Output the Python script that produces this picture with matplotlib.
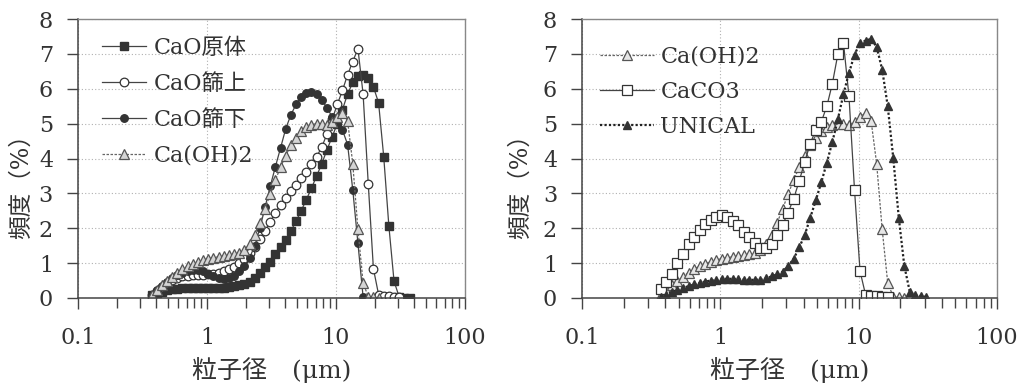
import matplotlib
matplotlib.use("Agg")
import matplotlib.pyplot as plt
from matplotlib.ticker import LogLocator, FixedLocator, FuncFormatter, NullFormatter

# particle size channels (um)
size_um = [0.3715, 0.4074, 0.4467, 0.4898, 0.5370, 0.5888, 0.6457, 0.7079, 0.7762, 0.8511,
           0.9333, 1.0233, 1.122, 1.230, 1.349, 1.479, 1.622, 1.778, 1.950, 2.138,
           2.344, 2.570, 2.818, 3.090, 3.388, 3.715, 4.074, 4.467, 4.898, 5.370,
           5.888, 6.457, 7.079, 7.762, 8.511, 9.333, 10.23, 11.22, 12.30, 13.49,
           14.79, 16.22, 17.78, 19.50, 21.38, 23.44, 25.70, 28.18, 30.90, 33.88,
           37.15]

cao_raw = [0.08, 0.13, 0.18, 0.22, 0.25, 0.27, 0.28, 0.28, 0.28, 0.28,
           0.28, 0.28, 0.28, 0.28, 0.29, 0.31, 0.33, 0.36, 0.40, 0.47,
           0.58, 0.72, 0.88, 1.04, 1.25, 1.45, 1.67, 1.92, 2.20, 2.50,
           2.82, 3.15, 3.50, 3.85, 4.25, 4.62, 5.00, 5.40, 5.85, 6.18,
           6.37, 6.40, 6.30, 6.05, 5.60, 4.05, 2.06, 0.48, 0.03, 0.01,
           0.00]

cao_over = [0.08, 0.20, 0.32, 0.43, 0.52, 0.58, 0.62, 0.64, 0.65, 0.66,
            0.67, 0.68, 0.70, 0.72, 0.76, 0.82, 0.90, 1.00, 1.13, 1.28,
            1.47, 1.68, 1.92, 2.18, 2.45, 2.68, 2.88, 3.07, 3.25, 3.43,
            3.62, 3.83, 4.05, 4.33, 4.70, 5.12, 5.55, 5.95, 6.40, 6.78,
            7.15, 5.85, 3.28, 0.84, 0.10, 0.06, 0.05, 0.04, 0.03]

cao_under = [0.08, 0.22, 0.35, 0.47, 0.57, 0.65, 0.72, 0.78, 0.81, 0.80,
             0.76, 0.70, 0.63, 0.58, 0.55, 0.57, 0.64, 0.76, 0.92, 1.15,
             1.50, 2.00, 2.60, 3.20, 3.76, 4.30, 4.85, 5.25, 5.55, 5.75,
             5.88, 5.92, 5.85, 5.68, 5.45, 5.20, 5.00, 4.82, 4.40, 3.10,
             1.57, 0.03]

caoh2 = [0.10, 0.23, 0.36, 0.49, 0.61, 0.73, 0.83, 0.91, 0.98, 1.04,
         1.09, 1.13, 1.16, 1.18, 1.20, 1.22, 1.25, 1.30, 1.38, 1.55,
         1.82, 2.15, 2.55, 2.98, 3.38, 3.75, 4.08, 4.38, 4.60, 4.78,
         4.90, 4.97, 5.00, 4.98, 4.97, 5.05, 5.20, 5.30, 5.08, 3.85,
         1.97, 0.43, 0.04, 0.02, 0.01]

caco3 = [0.25, 0.47, 0.69, 1.00, 1.26, 1.55, 1.76, 1.96, 2.12, 2.24,
         2.33, 2.38, 2.32, 2.21, 2.08, 1.90, 1.75, 1.57, 1.43, 1.42,
         1.55, 1.80, 2.10, 2.45, 2.85, 3.35, 3.90, 4.43, 4.82, 5.05,
         5.50, 6.15, 7.00, 7.32, 5.78, 3.10, 0.77, 0.09, 0.05, 0.05,
         0.04, 0.02]

unical = [0.04, 0.10, 0.17, 0.23, 0.29, 0.34, 0.39, 0.43, 0.47, 0.50,
          0.52, 0.54, 0.55, 0.55, 0.54, 0.53, 0.52, 0.52, 0.53, 0.56,
          0.62, 0.68, 0.75, 0.92, 1.12, 1.45, 1.80, 2.30, 2.80, 3.32,
          3.88, 4.48, 5.13, 5.85, 6.45, 6.98, 7.31, 7.38, 7.43, 7.20,
          6.55, 5.50, 4.02, 2.30, 0.92, 0.17, 0.08, 0.05, 0.03]

FONT = ["DejaVu Serif", "Noto Sans CJK JP"]
plt.rcParams["font.family"] = FONT
plt.rcParams["text.color"] = "#333333"
plt.rcParams["axes.labelcolor"] = "#333333"

fig = plt.figure(figsize=(10.22, 3.88), dpi=100)
ax1 = fig.add_axes([78 / 1022, 1 - 298 / 388, 387 / 1022, 279 / 388])
ax2 = fig.add_axes([582 / 1022, 1 - 298 / 388, 415 / 1022, 279 / 388])

dark = "#333333"
line = "#444444"


def n(vals):
    return size_um[:len(vals)]


# left panel
ax1.plot(n(cao_raw), cao_raw, "-", color=line, lw=0.9, marker="s", ms=5.2,
         mfc=dark, mec=dark, label="CaO原体")
ax1.plot(n(cao_over), cao_over, "-", color=line, lw=0.9, marker="o", ms=6.2,
         mfc="white", mec=dark, mew=0.9, label="CaO篩上")
ax1.plot(n(cao_under), cao_under, "-", color=line, lw=0.9, marker="o", ms=5.4,
         mfc=dark, mec=dark, label="CaO篩下")
ax1.plot(n(caoh2), caoh2, color="#666666", lw=0.9, ls=(0, (2, 1.2)), marker="^", ms=6.8,
         mfc="#d4d4d4", mec="#555555", mew=0.9, label="Ca(OH)2")

# right panel
ax2.plot(n(caoh2), caoh2, color="#666666", lw=0.9, ls=(0, (2, 1.2)), marker="^", ms=6.8,
         mfc="#e6e6e6", mec="#555555", mew=0.9, label="Ca(OH)2")
ax2.plot(n(caco3), caco3, "-", color=line, lw=0.9, marker="s", ms=6.6,
         mfc="white", mec=dark, mew=0.9, label="CaCO3")
ax2.plot(n(unical), unical, color="#222222", lw=1.6, ls=(0, (1, 1)), marker="^", ms=6.4,
         mfc=dark, mec=dark, label="UNICAL")

for ax in (ax1, ax2):
    ax.set_xscale("log")
    ax.set_xlim(0.1, 100)
    ax.set_ylim(0, 8)
    ax.xaxis.set_major_locator(FixedLocator([0.1, 1, 10, 100]))
    ax.xaxis.set_major_formatter(FuncFormatter(lambda v, p: "%g" % v))
    ax.xaxis.set_minor_locator(LogLocator(base=10, subs=range(2, 10)))
    ax.xaxis.set_minor_formatter(NullFormatter())
    ax.set_yticks(range(0, 9))
    ax.tick_params(axis="x", which="major", direction="out", length=8, width=1,
                   color="#444444", labelsize=16, pad=13, labelcolor="#333333")
    ax.tick_params(axis="x", which="minor", direction="out", length=7, width=1,
                   color="#444444")
    ax.tick_params(axis="y", direction="out", length=8, width=1, color="#444444",
                   labelsize=16, pad=10, labelcolor="#333333")
    ax.grid(True, which="major", ls=(0, (1, 2)), color="#b0b0b0", lw=0.8)
    ax.set_axisbelow(True)
    for side in ("left", "bottom"):
        ax.spines[side].set_color("#444444")
        ax.spines[side].set_linewidth(1.1)
    for side in ("top", "right"):
        ax.spines[side].set_color("#888888")
        ax.spines[side].set_linewidth(1.0)
    ax.set_xlabel("粒子径\u3000(μm)", fontsize=18)
    ax.set_ylabel("頻度（%）", fontsize=17)
    ax.xaxis.set_label_coords(0.5, -0.21)

ax1.yaxis.set_label_coords(-0.116, 0.42)
ax2.yaxis.set_label_coords(-0.12, 0.42)

ax1.legend(loc="upper left", bbox_to_anchor=(0.062, 0.935), frameon=False,
           borderpad=0, borderaxespad=0, handlelength=2.0, handletextpad=0.35,
           labelspacing=0.62, fontsize=16)
ax2.legend(loc="upper left", bbox_to_anchor=(0.044, 0.905), frameon=False,
           borderpad=0, borderaxespad=0, handlelength=2.4, handletextpad=0.3,
           labelspacing=0.6, fontsize=16)

fig.savefig("out.png", dpi=100)
